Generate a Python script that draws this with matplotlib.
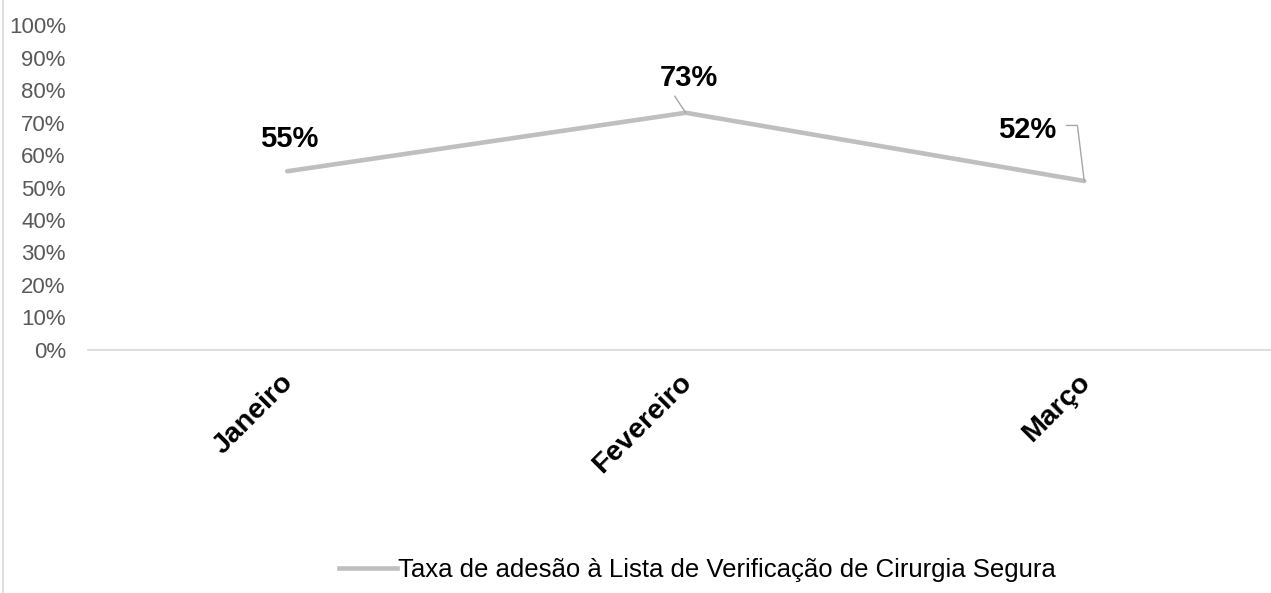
import matplotlib.pyplot as plt
from matplotlib.lines import Line2D
from matplotlib.transforms import ScaledTranslation

plt.rcParams['font.family'] = ['Liberation Sans', 'DejaVu Sans']

# Dados
meses = ['Janeiro', 'Fevereiro', 'Março']
taxa = [55, 73, 52]
rotulos = ['55%', '73%', '52%']
serie = 'Taxa de adesão à Lista de Verificação de Cirurgia Segura'

cinza = '#BFBFBF'

fig = plt.figure(figsize=(12.71, 5.93), dpi=100)
ax = fig.add_axes([88 / 1271, 0.4098, 1195.5 / 1271, 0.548])

x = list(range(len(meses)))
ax.plot(x, taxa, color=cinza, linewidth=3.3, solid_capstyle='round', label=serie)

ax.set_xlim(-0.5, 2.5)
ax.set_ylim(0, 100)
ax.set_yticks(range(0, 101, 10))
ax.set_yticklabels([f'{v}%' for v in range(0, 101, 10)], fontsize=16, color='#595959')
ax.set_xticks(x)
ax.set_xticklabels(meses, rotation=45, ha='right', rotation_mode='anchor',
                   fontsize=20.5, fontweight='bold', color='black')
ax.tick_params(axis='y', length=0, pad=16)
ax.tick_params(axis='x', length=0, pad=14)
# desloca um pouco os rótulos do eixo x para a esquerda
desloc = ScaledTranslation(-7 / 100, 0, fig.dpi_scale_trans)
for lbl in ax.get_xticklabels():
    lbl.set_transform(lbl.get_transform() + desloc)
for s in ['top', 'right', 'left']:
    ax.spines[s].set_visible(False)
ax.spines['bottom'].set_color('#D9D9D9')
ax.spines['bottom'].set_linewidth(1.2)

# rótulos de dados
ax.annotate(rotulos[0], (x[0], taxa[0]), xytext=(1.5, 23), textcoords='offset points',
            ha='center', va='center', fontsize=21, fontweight='bold')
ax.annotate(rotulos[1], (x[1], taxa[1]), xytext=(2, 25), textcoords='offset points',
            ha='center', va='center', fontsize=21, fontweight='bold')
ax.annotate(rotulos[2], (x[2], taxa[2]), xytext=(-20, 37), textcoords='offset points',
            ha='right', va='center', fontsize=21, fontweight='bold')

# linhas de chamada
ax.annotate('', (x[1], taxa[1]), xytext=(-8, 12), textcoords='offset points',
            arrowprops=dict(arrowstyle='-', color='#A6A6A6', lw=1, shrinkA=0, shrinkB=0))
ax.annotate('', (x[2], taxa[2]), xytext=(-13, 40), textcoords='offset points',
            arrowprops=dict(arrowstyle='-', color='#A6A6A6', lw=1, shrinkA=0, shrinkB=0,
                            connectionstyle='angle,angleA=0,angleB=97,rad=0'))

# legenda
handle = Line2D([], [], color=cinza, linewidth=3.3)
fig.legend([handle], [serie], loc='center', bbox_to_anchor=(0.549, 0.038),
           frameon=False, fontsize=18.5, handlelength=2.25, handletextpad=0.05)

# borda esquerda da área do gráfico
fig.add_artist(Line2D([0.002, 0.002], [0, 1], transform=fig.transFigure,
                      color='#D9D9D9', linewidth=1.2))

fig.savefig('out.png', dpi=100)
